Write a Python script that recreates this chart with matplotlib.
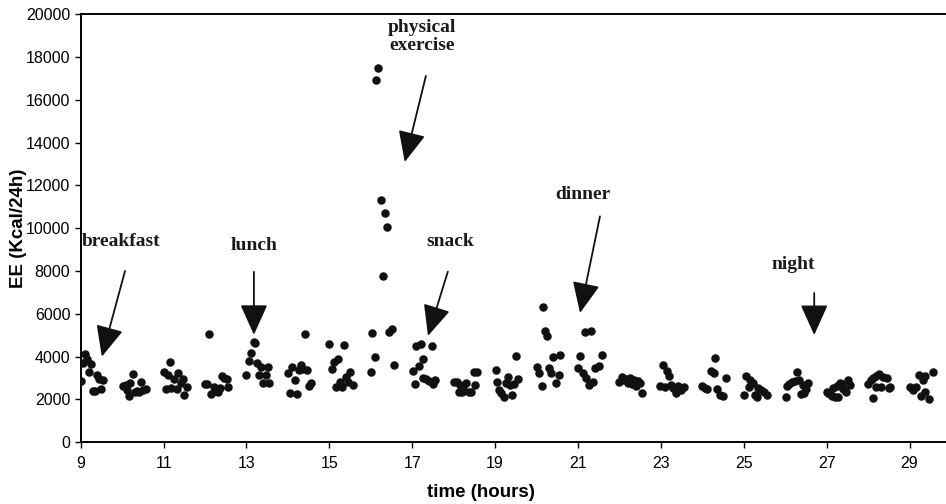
import matplotlib.pyplot as plt

# energy expenditure readings, grouped by hour of the day
hours = [
    9.0, 9.05, 9.1, 9.16, 9.21, 9.25, 9.4, 9.45, 9.55, 9.3, 9.35, 9.5,
    10.01, 10.09, 10.12, 10.16, 10.2, 10.26, 10.32, 10.37, 10.41, 10.45, 10.51, 10.57,
    11.02, 11.11, 11.15, 11.06, 11.19, 11.26, 11.32, 11.36, 11.42, 11.46, 11.5, 11.56,
    12.0, 12.05, 12.1, 12.15, 12.22, 12.27, 12.31, 12.36, 12.4, 12.46, 12.52, 12.56,
    13.0, 13.06, 13.11, 13.17, 13.21, 13.26, 13.3, 13.34, 13.4, 13.46, 13.51, 13.55,
    14.01, 14.06, 14.1, 14.16, 14.22, 14.26, 14.31, 14.36, 14.42, 14.45, 14.51, 14.56,
    15.0, 15.06, 15.12, 15.16, 15.2, 15.26, 15.3, 15.35, 15.4, 15.45, 15.5, 15.56,
    16.01, 16.04, 16.1, 16.12, 16.17, 16.25, 16.3, 16.35, 16.4, 16.44, 16.5, 16.57,
    17.02, 17.07, 17.1, 17.17, 17.2, 17.25, 17.27, 17.33, 17.4, 17.47, 17.5, 17.56,
    18.02, 18.08, 18.12, 18.16, 18.2, 18.23, 18.3, 18.36, 18.43, 18.48, 18.52, 18.57,
    19.01, 19.05, 19.09, 19.15, 19.21, 19.26, 19.31, 19.36, 19.41, 19.45, 19.5, 19.55,
    20.0, 20.06, 20.12, 20.15, 20.21, 20.26, 20.31, 20.36, 20.4, 20.46, 20.53, 20.56,
    21.0, 21.06, 21.11, 21.16, 21.2, 21.26, 21.32, 21.35, 21.42, 21.51, 21.57,
    22.0, 22.05, 22.1, 22.15, 22.2, 22.25, 22.3, 22.35, 22.4, 22.45, 22.5, 22.55,
    22.97, 23.06, 23.1, 23.14, 23.2, 23.24, 23.3, 23.36, 23.42, 23.48, 23.55,
    24.0, 24.06, 24.12, 24.2, 24.27, 24.3, 24.36, 24.42, 24.5, 24.56,
    25.01, 25.06, 25.12, 25.16, 25.22, 25.27, 25.31, 25.35, 25.42, 25.48, 25.55,
    26.02, 26.05, 26.1, 26.16, 26.24, 26.28, 26.33, 26.37, 26.42, 26.45, 26.5, 26.56,
    27.0, 27.04, 27.08, 27.12, 27.16, 27.2, 27.25, 27.28, 27.32, 27.36, 27.39, 27.47, 27.52, 27.57,
    28.0, 28.06, 28.12, 28.12, 28.18, 28.2, 28.27, 28.32, 28.37, 28.45, 28.5, 28.54,
    29.0, 29.08, 29.16, 29.22, 29.28, 29.32, 29.37, 29.38, 29.47, 29.57,
]
ee = [
    2860, 3720, 4120, 3890, 3270, 3660, 3140, 2940, 2910, 2400, 2400, 2470,
    2640, 2680, 2440, 2150, 2780, 3170, 2350, 2400, 2370, 2820, 2440, 2490,
    3280, 3130, 3750, 2490, 2540, 2940, 2470, 3250, 2750, 2970, 2210, 2600,
    2710, 2710, 5040, 2240, 2600, 2400, 2350, 2520, 3100, 3000, 2940, 2570,
    3140, 3810, 4160, 4700, 4620, 3720, 3140, 3500, 2750, 3140, 3530, 2750,
    3220, 2290, 3530, 2910, 2240, 3370, 3600, 3400, 5060, 3370, 2630, 2780,
    4590, 3410, 3740, 2600, 3890, 2830, 2600, 4540, 3060, 2830, 3300, 2680,
    3270, 5120, 3980, 16900, 17470, 11320, 7770, 10720, 10050, 5140, 5280, 3610,
    3330, 2710, 4500, 3560, 4590, 3880, 3000, 2940, 2870, 4510, 2730, 2890,
    2800, 2800, 2330, 2680, 2330, 2600, 2760, 2330, 2330, 3270, 2680, 3270,
    3380, 2800, 2440, 2320, 2130, 2760, 3060, 2680, 2210, 2710, 4030, 2940,
    3530, 3250, 2630, 6330, 5200, 4980, 3450, 3250, 3970, 2750, 3140, 4080,
    3480, 4030, 3220, 5140, 3000, 2680, 5210, 2830, 3450, 3580, 4080,
    2830, 3060, 2900, 2960, 2780, 3000, 2700, 2900, 2650, 2850, 2780, 2290,
    2630, 3610, 2570, 3330, 3110, 2680, 2550, 2320, 2650, 2440, 2600,
    2630, 2550, 2470, 3340, 3250, 3920, 2490, 2210, 2160, 2990,
    2210, 3110, 2570, 2910, 2750, 2210, 2100, 2540, 2450, 2350, 2210,
    2100, 2630, 2700, 2800, 2850, 3300, 2910, 2250, 2680, 2290, 2470, 2750,
    2360, 2300, 2250, 2180, 2520, 2130, 2650, 2130, 2750, 2700, 2470, 2360, 2910, 2680,
    2720, 2900, 3000, 2050, 3100, 2570, 3190, 2570, 3050, 3000, 2520, 2570,
    2600, 2440, 2600, 3140, 2180, 2900, 3090, 2360, 2020, 3300,
]

# labels: text, text position, arrow tail, arrow tip
events = ["breakfast", "lunch", "physical\nexercise", "snack", "dinner", "night"]
text_pos = [(9.97, 9400), (13.18, 9170), (17.23, 18960), (17.91, 9400), (21.12, 11560), (26.2, 8280)]
arrow_tail = [(10.07, 8000), (13.18, 7960), (17.33, 17110), (17.86, 7970), (21.53, 10550), (26.7, 6970)]
arrow_tip = [(9.51, 4000), (13.18, 5020), (16.82, 13090), (17.38, 4970), (21.05, 6040), (26.7, 5010)]

fig = plt.figure(figsize=(9.46, 5.04), dpi=100)
ax = fig.add_axes([0.0853, 0.1224, 0.9147, 0.8498])

ax.scatter(hours, ee, s=26, color='#111111', zorder=3)

for name, tp, tail, tip in zip(events, text_pos, arrow_tail, arrow_tip):
    ax.text(tp[0], tp[1], name, ha='center', va='center', fontsize=14,
            fontweight='bold', family='Liberation Serif', color='#1a1a1a', linespacing=1.1)
    ax.annotate('', xy=tip, xytext=tail,
                arrowprops=dict(arrowstyle='-|>,head_length=1.0,head_width=0.45',
                                color='#111111', lw=1.3, shrinkA=0, shrinkB=0,
                                mutation_scale=19))

ax.set_xlim(9, 29.88)
ax.set_ylim(0, 20000)
ax.set_xticks(range(9, 30, 2))
ax.set_yticks(range(0, 20001, 2000))
ax.tick_params(direction='out', length=4, width=1, labelsize=11.5)
ax.tick_params(axis='x', pad=6)
for lab in ax.get_xticklabels() + ax.get_yticklabels():
    lab.set_family('Liberation Sans')

ax.spines['right'].set_visible(False)
for side in ['left', 'bottom', 'top']:
    ax.spines[side].set_linewidth(1.4)

ax.set_xlabel('time (hours)', fontsize=13.5, fontweight='bold', family='Liberation Sans')
ax.set_ylabel('EE (Kcal/24h)', fontsize=13.5, fontweight='bold', family='Liberation Sans')
ax.xaxis.set_label_coords(0.4626, -0.097)
ax.yaxis.set_label_coords(-0.062, 0.5)

plt.savefig("out.png", dpi=100)
